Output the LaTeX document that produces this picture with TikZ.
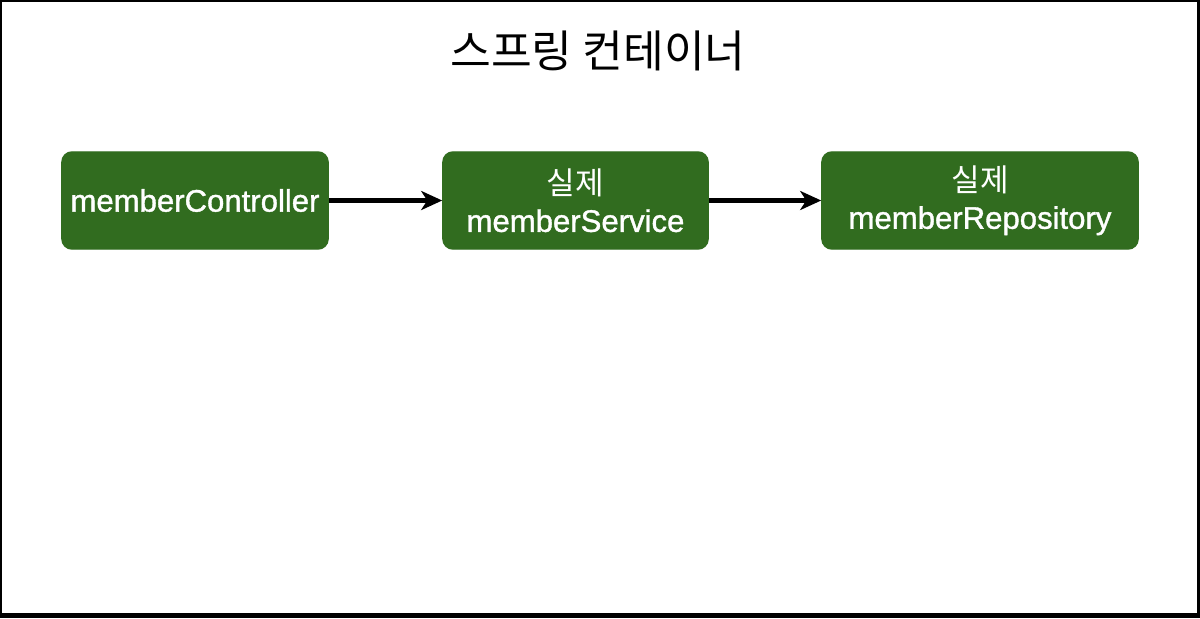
\documentclass[tikz,border=0pt]{standalone}
\usepackage{fontspec}
\setmainfont{Liberation Sans}
\newfontfamily\beanfont{Liberation Sans}[FakeBold=1.2]
\newfontfamily\korfont{Noto Sans CJK KR}
\usepackage{tikz}
\usetikzlibrary{arrows.meta}
\definecolor{beanGreen}{RGB}{49,108,31}

\begin{document}
\begin{tikzpicture}[x=0.01cm,y=-0.01cm,
  bean/.style={draw=beanGreen,fill=beanGreen,rounded corners=0.1cm,text=white,
    align=center,inner sep=0pt,minimum height=0.97cm,
    font=\beanfont\fontsize{8.85}{10.6}\selectfont},
  dep/.style={-{Stealth[length=2.1mm,width=1.9mm,inset=0.6mm]},line width=1.15pt}]
\useasboundingbox (0,0) rectangle (1200,618);
\fill[black] (0,0) rectangle (1200,618);
\fill[white] (2,2) rectangle (1197,613);
\node[font=\korfont\fontsize{12.6}{15}\selectfont] (title) at (598,51) {스프링 컨테이너};
\node[bean,minimum width=2.66cm] (ctrl) at (195,200.5) {memberController};
\node[bean,minimum width=2.65cm] (svc) at (575.5,200.5) {{\korfont 실제}\\memberService};
\node[bean,minimum width=3.16cm] (repo) at (980,200.5) {{\korfont 실제}\\memberRepository};
\draw[dep] (ctrl) -- (svc);
\draw[dep] (svc) -- (repo);
\end{tikzpicture}
\end{document}
